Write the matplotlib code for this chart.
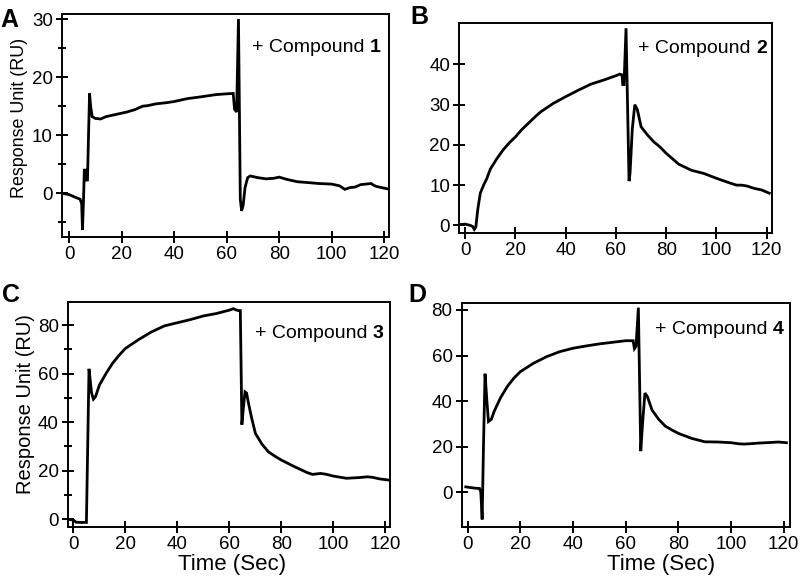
import matplotlib
matplotlib.use("Agg")
import matplotlib.pyplot as plt
from matplotlib.ticker import MultipleLocator

plt.rcParams['font.family'] = ['Liberation Sans', 'DejaVu Sans']

# ---------------- data ----------------
t_A = [-2.5, 0, 2, 4.2, 4.8, 5.1, 5.5, 5.8, 6.3, 6.6, 7.0, 7.4, 7.8, 8.2, 8.8, 10, 12, 14, 17, 20,
       22, 25, 28, 30, 33, 37, 40, 42, 45, 50, 53, 56, 59, 62.5, 63.0, 63.8, 64.5, 65.2, 65.7, 66.3,
       67, 68, 69, 72, 75, 78, 80, 83, 87, 90, 95, 100, 103, 105, 107, 109, 111, 113, 115, 116, 117,
       119, 121]
ru_A = [0, -0.2, -0.6, -1, -1.8, -6.3, -1, 4, 4, 2.3, 2.3, 10, 17.2, 15, 13.2, 12.9, 12.8, 13.2, 13.5,
        13.8, 14, 14.4, 15, 15.1, 15.4, 15.6, 15.8, 16, 16.3, 16.6, 16.8, 17, 17.1, 17.2, 14.5, 14,
        30, -1, -3, -2, 1, 2.7, 3, 2.7, 2.5, 2.6, 2.8, 2.4, 2, 1.9, 1.7, 1.6, 1.3, 0.7, 1, 1.1, 1.5,
        1.6, 1.7, 1.4, 1.2, 1.0, 0.8]

t_B = [-2, 0, 2, 3, 3.6, 4.2, 5, 6, 7.3, 8.5, 10, 12.5, 15, 17.5, 20, 22.5, 25, 27.5, 30, 35, 40,
       45, 50, 55, 60, 61.5, 62.4, 62.7, 63.2, 64.0, 65.2, 65.6, 66.5, 67.5, 68.5, 70, 72.5, 75,
       77.5, 80, 85, 90, 95, 100, 105, 108, 110, 112, 115, 118, 121]
ru_B = [0.2, 0.3, 0, -0.3, -1, -0.5, 4, 8, 10, 11.5, 14, 16.5, 18.7, 20.5, 22, 23.8, 25.3, 26.8,
        28.2, 30.3, 32, 33.6, 35.1, 36.1, 37.2, 37.6, 37.4, 35, 35, 49, 11, 13, 24, 30, 28.8,
        24.5, 22.5, 20.8, 19.5, 17.9, 15.2, 13.7, 12.9, 11.7, 10.6, 10, 10, 9.8, 9.2, 8.8, 8]

t_C = [-2.3, 0, 1, 3, 5, 5.5, 6.0, 6.4, 7, 7.7, 8.5, 10, 12.5, 15, 17.5, 20, 25, 30, 35, 40, 45,
       50, 55, 60, 61.5, 62.5, 63.5, 64.2, 64.8, 65.3, 66.0, 66.6, 67.5, 68.5, 70, 72.5, 75, 77.5,
       80, 85, 90, 92, 95, 97, 100, 105, 110, 113, 115, 118, 121]
ru_C = [0, -0.3, -1.2, -1.3, -1.3, 30, 62, 58, 52, 49.5, 50.5, 55.3, 60, 64.2, 67.5, 70.4, 74,
        77.2, 79.7, 81, 82.3, 83.8, 84.8, 86.2, 86.8, 86.3, 86, 86, 39, 45, 52.5, 52, 47, 42,
        35.4, 31, 27.8, 26, 24.4, 21.7, 19.2, 18.5, 18.9, 18.6, 17.8, 16.9, 17.2, 17.5, 17.3,
        16.6, 16.2]

t_D = [-0.7, 1, 3, 4.5, 5.0, 5.5, 6.0, 6.6, 7.3, 7.9, 9, 10, 12.5, 15, 17.5, 20, 25, 30, 35, 40,
       45, 50, 55, 60, 62.8, 63.3, 63.9, 64.8, 65.7, 66.5, 67.3, 68.2, 70, 72.5, 75, 77.5, 80, 85,
       90, 95, 100, 103, 105, 108, 110, 115, 118, 121]
ru_D = [2.3, 2, 1.7, 1.6, 0, -12, 20, 52, 40, 31, 32, 35.3, 41.5, 46.3, 50, 52.9, 56.6, 59.5,
        61.7, 63.2, 64.2, 65.1, 65.8, 66.5, 66.5, 63, 64, 81, 18, 32, 43.5, 42, 36, 32, 29, 27.3,
        25.8, 23.6, 22.1, 22, 21.7, 21.2, 21.1, 21.3, 21.5, 21.8, 22, 21.7]

x_ticks = [0, 20, 40, 60, 80, 100, 120]
y_ticks_A = [0, 10, 20, 30]
y_ticks_B = [0, 10, 20, 30, 40]
y_ticks_C = [0, 20, 40, 60, 80]
y_ticks_D = [0, 20, 40, 60, 80]
panel_letters = ['A', 'B', 'C', 'D']
compound_ids = ['1', '2', '3', '4']

# ---------------- layout ----------------
fig = plt.figure(figsize=(8, 5.84), dpi=100)

specs = [
    dict(rect=[0.0775, 0.5942, 0.409, 0.3818], xlim=(-2.7, 121.9), ylim=(-7.5, 30.86),
         yt=y_ticks_A, ymin=5, txt=(0.58, 0.852), letter=(0.001, 0.9865),
         t=t_A, y=ru_A, ylabel=(12.9, -0.104, 0.534), xlabel=None),
    dict(rect=[0.574, 0.601, 0.391, 0.3596], xlim=(-2.4, 122.1), ylim=(-1.9, 50.3),
         yt=y_ticks_B, ymin=None, txt=(0.572, 0.88), letter=(0.5135, 0.991),
         t=t_B, y=ru_B, ylabel=None, xlabel=None),
    dict(rect=[0.0846, 0.0971, 0.403, 0.386], xlim=(-2.2, 121.8), ylim=(-3.3, 89.6),
         yt=y_ticks_C, ymin=10, txt=(0.581, 0.861), letter=(0.002, 0.5157),
         t=t_C, y=ru_C, ylabel=(14.5, -0.101, 0.547), xlabel=(16, 0.51)),
    dict(rect=[0.577, 0.0981, 0.410, 0.3836], xlim=(-2.3, 122.2), ylim=(-15.2, 83.2),
         yt=y_ticks_D, ymin=None, txt=(0.589, 0.881), letter=(0.511, 0.515),
         t=t_D, y=ru_D, ylabel=None, xlabel=(16, 0.607)),
]

for i, s in enumerate(specs):
    ax = fig.add_axes(s['rect'])
    ax.plot(s['t'], s['y'], color='black', lw=2.0, solid_joinstyle='miter')
    ax.set_xlim(*s['xlim'])
    ax.set_ylim(*s['ylim'])
    ax.set_xticks(x_ticks)
    ax.set_yticks(s['yt'])
    if s['ymin']:
        ax.yaxis.set_minor_locator(MultipleLocator(s['ymin']))
    for sp in ax.spines.values():
        sp.set_linewidth(1.4)
    ax.tick_params(axis='both', which='major', direction='inout', length=9, width=1.4,
                   labelsize=13.5, pad=2)
    ax.tick_params(axis='both', which='minor', direction='inout', length=6, width=1.4)
    if s['ylabel']:
        fs, lx, ly = s['ylabel']
        ax.set_ylabel('Response Unit (RU)', fontsize=fs)
        ax.yaxis.set_label_coords(lx, ly)
    if s['xlabel']:
        fs, lx = s['xlabel']
        ax.set_xlabel('Time (Sec)', fontsize=fs)
        ax.xaxis.set_label_coords(lx, -0.12)
    tx = ax.text(s['txt'][0], s['txt'][1], '+ Compound ', transform=ax.transAxes,
                 fontsize=14, va='center', ha='left')
    fig.canvas.draw()
    bb = tx.get_window_extent()
    inv = ax.transAxes.inverted()
    x_end = inv.transform((bb.x1, bb.y0))[0]
    ax.text(x_end, s['txt'][1], compound_ids[i], transform=ax.transAxes,
            fontsize=14, va='center', ha='left', fontweight='bold')
    fig.text(s['letter'][0], s['letter'][1], panel_letters[i], fontsize=18,
             fontweight='bold', va='top', ha='left')

fig.savefig('out.png', dpi=100)
